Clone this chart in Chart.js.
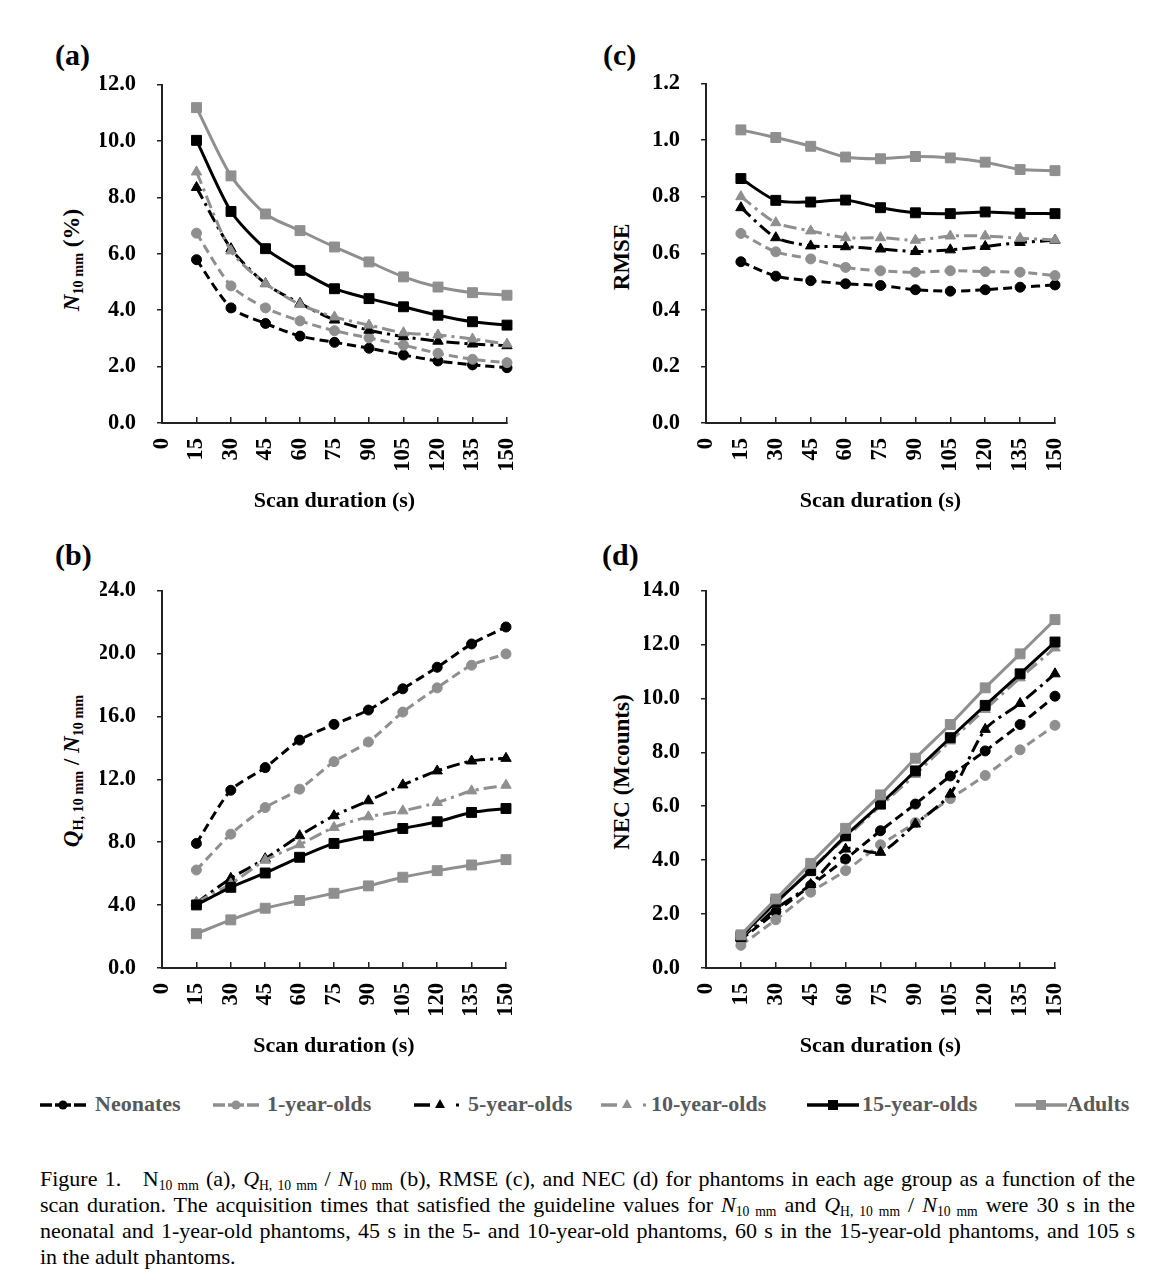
<!DOCTYPE html>
<html>
<head>
<meta charset="utf-8">
<script src="https://cdn.jsdelivr.net/npm/chart.js@4.4.1/dist/chart.umd.min.js"></script>
<style>
  body { margin: 0; background: #fff; font-family: "Liberation Serif", "Times New Roman", serif; }
  #page { position: relative; width: 1169px; height: 1280px; overflow: hidden; }
  .box { position: absolute; }
  .tag { position: absolute; font-weight: bold; font-size: 30px; color: #000; }
  .ytitle { position: absolute; font-weight: bold; font-size: 23px; color: #000; white-space: nowrap;
            transform: translate(-50%, -50%) rotate(-90deg); }
  sub { font-size: 0.62em; vertical-align: -0.28em; line-height: 0; }
  .leg { position: absolute; top: 1093px; height: 24px; }
  .legtxt { position: absolute; top: 1091px; font-weight: bold; font-size: 22px; color: #595959; white-space: nowrap; }
  #caption { position: absolute; left: 40px; top: 1166px; width: 1095px; font-size: 22px; line-height: 26px; color: #000; }
  #caption div { white-space: nowrap; text-align: justify; text-align-last: justify; }
  #caption div.last { text-align-last: left; }
</style>
</head>
<body>
<div id="page">
  <div class="tag" style="left:55px; top:38px;">(a)</div>
  <div class="tag" style="left:603px; top:38px;">(c)</div>
  <div class="tag" style="left:55px; top:538px;">(b)</div>
  <div class="tag" style="left:602px; top:538px;">(d)</div>

  <div class="box" style="left:100px; top:50px;"><canvas id="chartA" width="455" height="468"></canvas></div>
  <div class="box" style="left:644px; top:49px;"><canvas id="chartC" width="459" height="469"></canvas></div>
  <div class="box" style="left:100px; top:556px;"><canvas id="chartB" width="454" height="507"></canvas></div>
  <div class="box" style="left:644px; top:556px;"><canvas id="chartD" width="459" height="507"></canvas></div>

  <div class="ytitle" style="left:72px; top:260px;"><i>N</i><sub>10 mm</sub> (%)</div>
  <div class="ytitle" style="left:622px; top:257px;">RMSE</div>
  <div class="ytitle" style="left:72px; top:771px;"><i>Q</i><sub>H, 10 mm</sub> / <i>N</i><sub>10 mm</sub></div>
  <div class="ytitle" style="left:622px; top:772px;">NEC (Mcounts)</div>

  <div id="legend"></div>

  <div id="caption">
    <div>Figure 1.&nbsp;&nbsp; N<sub>10 mm</sub> (a), <i>Q</i><sub>H, 10 mm</sub> / <i>N</i><sub>10 mm</sub> (b), RMSE (c), and NEC (d) for phantoms in each age group as a function of the</div>
    <div>scan duration. The acquisition times that satisfied the guideline values for <i>N</i><sub>10 mm</sub> and <i>Q</i><sub>H, 10 mm</sub> / <i>N</i><sub>10 mm</sub> were 30 s in the</div>
    <div>neonatal and 1-year-old phantoms, 45 s in the 5- and 10-year-old phantoms, 60 s in the 15-year-old phantoms, and 105 s</div>
    <div class="last">in the adult phantoms.</div>
  </div>
</div>

<script>
// scan durations (s) and axis ticks
var durations = [15, 30, 45, 60, 75, 90, 105, 120, 135, 150]
var xTicks = [0, 15, 30, 45, 60, 75, 90, 105, 120, 135, 150]
var groups = ['Neonates', '1-year-olds', '5-year-olds', '10-year-olds', '15-year-olds', 'Adults']

// (a) N10mm (%)
var nNeo = [5.79, 4.08, 3.53, 3.08, 2.86, 2.65, 2.41, 2.20, 2.06, 1.96]
var n1y  = [6.73, 4.86, 4.08, 3.62, 3.27, 3.02, 2.76, 2.47, 2.26, 2.14]
var n5y  = [8.35, 6.18, 4.94, 4.24, 3.65, 3.29, 3.06, 2.90, 2.80, 2.74]
var n10y = [8.90, 6.10, 4.94, 4.20, 3.76, 3.47, 3.20, 3.12, 2.98, 2.80]
var n15y = [10.02, 7.50, 6.18, 5.41, 4.76, 4.41, 4.12, 3.82, 3.59, 3.47]
var nAd  = [11.18, 8.76, 7.41, 6.82, 6.24, 5.71, 5.18, 4.82, 4.62, 4.53]
var yTicksA = [0, 2, 4, 6, 8, 10, 12]

// (c) RMSE
var rNeo = [0.570, 0.519, 0.503, 0.492, 0.486, 0.471, 0.466, 0.471, 0.480, 0.488]
var r1y  = [0.670, 0.605, 0.580, 0.550, 0.538, 0.533, 0.538, 0.535, 0.533, 0.521]
var r5y  = [0.761, 0.655, 0.626, 0.623, 0.615, 0.606, 0.612, 0.624, 0.638, 0.646]
var r10y = [0.800, 0.708, 0.679, 0.655, 0.655, 0.646, 0.661, 0.661, 0.653, 0.647]
var r15y = [0.864, 0.787, 0.781, 0.788, 0.761, 0.743, 0.740, 0.746, 0.741, 0.740]
var rAd  = [1.036, 1.009, 0.978, 0.940, 0.934, 0.942, 0.937, 0.922, 0.896, 0.892]
var yTicksC = [0, 0.2, 0.4, 0.6, 0.8, 1.0, 1.2]

// (b) QH,10mm / N10mm
var qNeo = [7.92, 11.30, 12.74, 14.49, 15.49, 16.40, 17.75, 19.12, 20.60, 21.68]
var q1y  = [6.23, 8.51, 10.20, 11.37, 13.12, 14.37, 16.27, 17.81, 19.25, 19.97]
var q5y  = [4.14, 5.70, 6.95, 8.41, 9.68, 10.63, 11.64, 12.53, 13.16, 13.33]
var q10y = [4.18, 5.35, 6.85, 7.84, 8.94, 9.61, 9.99, 10.52, 11.26, 11.62]
var q15y = [4.01, 5.13, 6.04, 7.04, 7.92, 8.41, 8.87, 9.30, 9.89, 10.14]
var qAd  = [2.18, 3.06, 3.80, 4.29, 4.75, 5.22, 5.77, 6.19, 6.55, 6.89]
var yTicksB = [0, 4, 8, 12, 16, 20, 24]

// (d) NEC (Mcounts)
var eNeo = [1.05, 2.07, 3.06, 4.04, 5.09, 6.08, 7.12, 8.05, 9.03, 10.08]
var e1y  = [0.84, 1.79, 2.81, 3.61, 4.57, 5.39, 6.28, 7.14, 8.09, 9.00]
var e5y  = [1.11, 2.19, 3.10, 4.41, 4.29, 5.34, 6.45, 8.85, 9.81, 10.91]
var e10y = [1.15, 2.38, 3.67, 4.84, 6.01, 7.18, 8.42, 9.59, 10.76, 11.87]
var e15y = [1.17, 2.44, 3.61, 4.90, 6.08, 7.31, 8.54, 9.74, 10.91, 12.09]
var eAd  = [1.23, 2.56, 3.88, 5.18, 6.42, 7.78, 9.03, 10.39, 11.65, 12.92]
var yTicksD = [0, 2, 4, 6, 8, 10, 12, 14]

var BLACK = '#000000'
var GRAY = '#8f8f8f'
var SERIF = '"Liberation Serif", "Times New Roman", serif'

var styles = [
    { color: BLACK, dash: [9, 5], point: 'circle', r: 5 },
    { color: GRAY, dash: [9, 5], point: 'circle', r: 5 },
    { color: BLACK, dash: [13, 5, 3, 5], point: 'triangle', r: 6 },
    { color: GRAY, dash: [13, 5, 3, 5], point: 'triangle', r: 6 },
    { color: BLACK, dash: [], point: 'rect', r: 7 },
    { color: GRAY, dash: [], point: 'rect', r: 7 }
]

function makeDatasets(series) {
    return series.map(function (vals, i) {
        var s = styles[i]
        return {
            label: groups[i],
            data: durations.map(function (d, j) { return { x: d, y: vals[j] } }),
            borderColor: s.color,
            backgroundColor: s.color,
            borderWidth: 3,
            borderDash: s.dash,
            pointStyle: s.point,
            pointRadius: s.r,
            pointBorderWidth: 1,
            pointBackgroundColor: s.color,
            pointBorderColor: s.color,
            tension: 0.25,
            clip: false,
            order: 5 - i
        }
    })
}

function loadChart(id, series, yTicks, yMax) {
    var ctx = document.getElementById(id).getContext('2d')
    var tickFont = { family: SERIF, size: 22.5, weight: 'bold' }
    var titleFont = { family: SERIF, size: 22, weight: 'bold' }
    return new Chart(ctx, {
        type: 'line',
        data: { datasets: makeDatasets(series) },
        options: {
            responsive: false,
            animation: false,
            devicePixelRatio: 1,
            layout: { padding: { top: 7, right: 0, left: 0, bottom: 0 } },
            plugins: { legend: { display: false }, tooltip: { enabled: false } },
            scales: {
                x: {
                    type: 'linear',
                    min: 0,
                    max: 150,
                    afterBuildTicks: function (axis) { axis.ticks = xTicks.map(function (v) { return { value: v } }) },
                    afterFit: function (axis) { axis.height = 95 },
                    ticks: { autoSkip: false, maxRotation: 90, minRotation: 90, padding: 21, color: BLACK, font: tickFont },
                    grid: { display: true, drawOnChartArea: false, drawTicks: true, tickLength: -6, color: '#222', lineWidth: 1.5 },
                    border: { display: true, color: '#222', width: 2 },
                    title: { display: true, text: 'Scan duration (s)', color: BLACK, font: titleFont, padding: { top: 0, bottom: 3 } }
                },
                y: {
                    min: 0,
                    max: yMax,
                    afterBuildTicks: function (axis) { axis.ticks = yTicks.map(function (v) { return { value: v } }) },
                    afterFit: function (axis) { axis.width = 62 },
                    ticks: { padding: 21, color: BLACK, font: tickFont, callback: function (v) { return v.toFixed(1) } },
                    grid: { display: true, drawOnChartArea: false, drawTicks: true, tickLength: 5, color: '#222', lineWidth: 1.5 },
                    border: { display: true, color: '#222', width: 2 }
                }
            }
        }
    })
}

function buildLegend() {
    // legend symbols: [left of symbol, left of text]
    var spots = [[40, 95], [213, 267], [414, 468], [601, 651], [807, 862], [1015, 1067]]
    var html = ''
    spots.forEach(function (p, i) {
        var s = styles[i]
        var c = s.color
        var svg = '<svg width="52" height="24" xmlns="http://www.w3.org/2000/svg">'
        var m = ''
        if (s.point === 'circle') {
            svg += '<line x1="0" y1="12" x2="12" y2="12" stroke="' + c + '" stroke-width="3.5"/>'
            svg += '<line x1="34" y1="12" x2="46" y2="12" stroke="' + c + '" stroke-width="3.5"/>'
            svg += '<line x1="15" y1="12" x2="31" y2="12" stroke="' + c + '" stroke-width="3.5"/>'
            m = '<circle cx="23" cy="12" r="4.5" fill="' + c + '"/>'
        } else if (s.point === 'triangle') {
            svg += '<line x1="0" y1="12" x2="16" y2="12" stroke="' + c + '" stroke-width="3.5"/>'
            svg += '<rect x="42" y="10.5" width="3" height="3" fill="' + c + '"/>'
            m = '<polygon points="26,6 31,15 21,15" fill="' + c + '"/>'
        } else {
            svg += '<line x1="0" y1="12" x2="52" y2="12" stroke="' + c + '" stroke-width="3.5"/>'
            m = '<rect x="21" y="7" width="10" height="10" fill="' + c + '"/>'
        }
        svg += m + '</svg>'
        html += '<div class="leg" style="left:' + p[0] + 'px">' + svg + '</div>'
        html += '<div class="legtxt" style="left:' + p[1] + 'px">' + groups[i] + '</div>'
    })
    document.getElementById('legend').innerHTML = html
}

document.addEventListener('DOMContentLoaded', function () {
    loadChart('chartA', [nNeo, n1y, n5y, n10y, n15y, nAd], yTicksA, 12)
    loadChart('chartC', [rNeo, r1y, r5y, r10y, r15y, rAd], yTicksC, 1.2)
    loadChart('chartB', [qNeo, q1y, q5y, q10y, q15y, qAd], yTicksB, 24)
    loadChart('chartD', [eNeo, e1y, e5y, e10y, e15y, eAd], yTicksD, 14)
    buildLegend()
})
</script>
</body>
</html>
